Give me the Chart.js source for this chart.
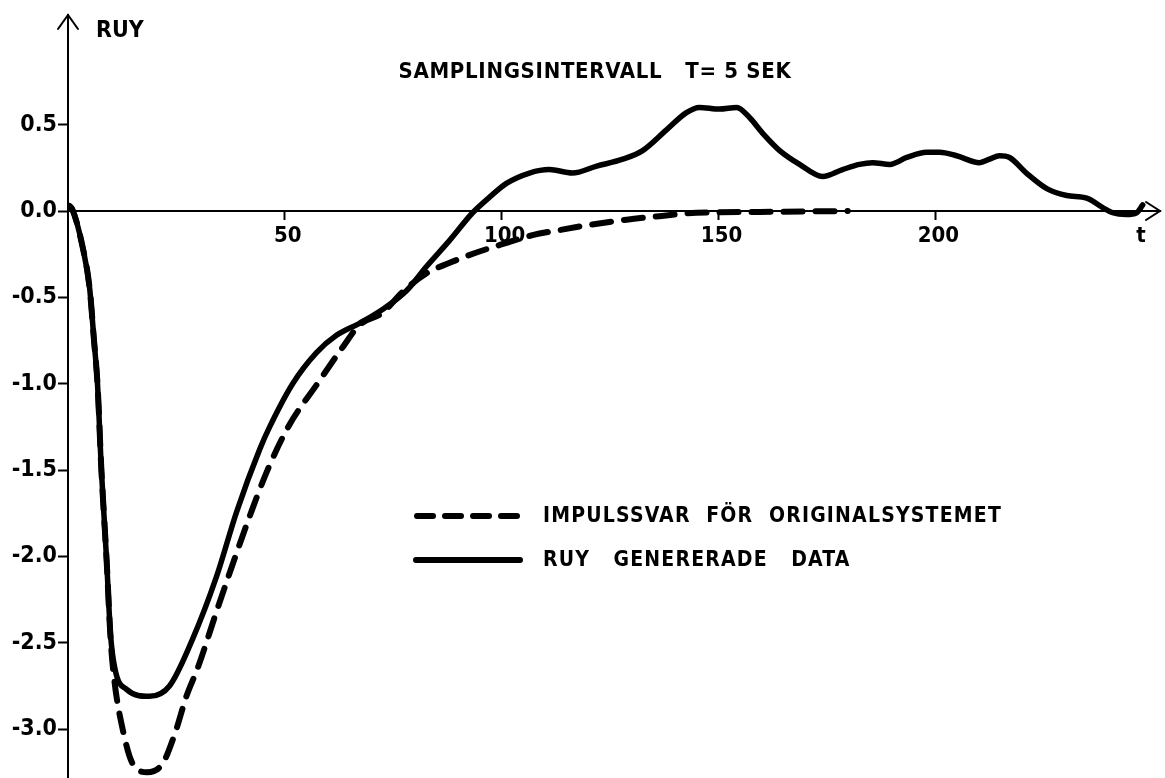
<!DOCTYPE html>
<html>
<head>
<meta charset="utf-8">
<script src="https://cdn.jsdelivr.net/npm/chart.js@4/dist/chart.umd.min.js"></script>
<style>
  html, body { margin: 0; padding: 0; background: #fff; }
  #wrap { width: 1165px; height: 778px; position: relative; }
</style>
</head>
<body>
<div id="wrap"><canvas id="c" width="1165" height="778"></canvas></div>
<script>
// ---- data ----
const solidT = [0.3, 1, 3.3, 5, 6, 6.8, 7.7, 8.9, 9.8, 10.9, 13.5, 18.8, 23.4, 28.7, 34.2, 38.9, 44.2, 46.5, 51.8, 57.3, 61.9, 67.2, 72.5, 78.1, 82.7, 88.0, 93.3, 97.2, 101.1, 106.4, 111.0, 116.3, 121.9, 127.9, 132.5, 138.0, 142.6, 145.6, 150.2, 154.2, 157.2, 160.2, 164.1, 168.7, 174.0, 178.6, 182.5, 185.5, 189.5, 193.4, 198.0, 201.0, 204.9, 210.2, 212.5, 214.8, 217.1, 221.0, 225.7, 230.3, 234.9, 238.6, 240.9, 244.1, 246.4, 247.8];
const solidY = [0.03, 0.01, -0.2, -0.45, -0.75, -1.0, -1.5, -2.02, -2.45, -2.66, -2.77, -2.81, -2.75, -2.48, -2.12, -1.74, -1.38, -1.25, -1.0, -0.82, -0.72, -0.65, -0.57, -0.46, -0.32, -0.17, -0.01, 0.08, 0.16, 0.22, 0.24, 0.22, 0.26, 0.30, 0.35, 0.47, 0.57, 0.60, 0.59, 0.60, 0.54, 0.45, 0.35, 0.27, 0.20, 0.24, 0.27, 0.28, 0.27, 0.31, 0.34, 0.34, 0.32, 0.28, 0.30, 0.32, 0.31, 0.22, 0.13, 0.09, 0.075, 0.02, -0.01, -0.02, -0.01, 0.035];
const dashT = [0.3, 1, 3.3, 5, 6, 6.8, 7.7, 8.9, 9.8, 10.7, 12.6, 14.9, 18.3, 21.8, 24.6, 27.3, 30.0, 34.5, 38.6, 42.0, 46.0, 51.0, 57.5, 63.3, 67.2, 72.5, 77.1, 82.7, 88.0, 94.2, 97.9, 107.1, 113.4, 120.3, 128.8, 136.4, 144.9, 159.5, 179.8];
const dashY = [0.03, 0.01, -0.2, -0.45, -0.75, -1.0, -1.5, -2.02, -2.47, -2.72, -3.0, -3.2, -3.25, -3.2, -3.03, -2.81, -2.64, -2.3, -2.0, -1.76, -1.5, -1.24, -1.0, -0.79, -0.66, -0.59, -0.47, -0.36, -0.30, -0.24, -0.21, -0.14, -0.11, -0.08, -0.05, -0.03, -0.01, -0.005, 0];
const xTicks = [50, 100, 150, 200];
const yTicks = [0.5, 0, -0.5, -1.0, -1.5, -2.0, -2.5, -3.0];
const titleText = 'SAMPLINGSINTERVALL   T= 5 SEK';
const yAxisName = 'RUY';
const xAxisName = 't';
const legendDashed = 'IMPULSSVAR  FÖR  ORIGINALSYSTEMET';
const legendSolid = 'RUY   GENERERADE   DATA';

const FONT = '"DejaVu Sans Condensed", "DejaVu Sans", sans-serif';

const pts = (ts, ys) => ts.map((t, i) => ({ x: t, y: ys[i] }));

const annot = {
  id: 'annot',
  afterDraw(chart) {
    const { ctx, chartArea: a, scales: { x, y } } = chart;
    const y0 = y.getPixelForValue(0);
    ctx.save();
    ctx.strokeStyle = '#000';
    ctx.fillStyle = '#000';
    ctx.lineWidth = 2;
    ctx.lineCap = 'round';
    // y axis arrow
    ctx.beginPath();
    ctx.moveTo(a.left - 10, a.top + 14);
    ctx.lineTo(a.left, a.top);
    ctx.lineTo(a.left + 10, a.top + 14);
    ctx.stroke();
    // x axis arrow
    ctx.beginPath();
    ctx.moveTo(a.right - 14, y0 - 9);
    ctx.lineTo(a.right, y0);
    ctx.lineTo(a.right - 14, y0 + 9);
    ctx.stroke();
    // texts
    ctx.textBaseline = 'middle';
    ctx.font = 'bold 23px ' + FONT;
    ctx.textAlign = 'left';
    ctx.fillText(yAxisName, 96, 31);
    ctx.textAlign = 'center';
    ctx.font = 'bold 22px ' + FONT;
    ctx.fillText(xAxisName, 1141, 236);
    ctx.font = 'bold 22px ' + FONT;
    ctx.letterSpacing = '0.7px';
    ctx.fillText(titleText, 595, 72);
    // legend
    ctx.textAlign = 'left';
    ctx.font = 'bold 21px ' + FONT;
    ctx.letterSpacing = '1.2px';
    ctx.lineWidth = 6;
    ctx.setLineDash([16, 12]);
    ctx.beginPath();
    ctx.moveTo(417, 516);
    ctx.lineTo(521, 516);
    ctx.stroke();
    ctx.setLineDash([]);
    ctx.beginPath();
    ctx.moveTo(416, 560);
    ctx.lineTo(520, 560);
    ctx.stroke();
    ctx.fillText(legendDashed, 543, 517);
    ctx.fillText(legendSolid, 543, 561);
    ctx.restore();
  }
};

new Chart(document.getElementById('c'), {
  type: 'line',
  data: {
    datasets: [
      {
        label: 'RUY GENERERADE DATA',
        data: pts(solidT, solidY),
        borderColor: '#000',
        borderWidth: 5.5,
        pointRadius: 0,
        cubicInterpolationMode: 'monotone',
        borderCapStyle: 'round',
        borderJoinStyle: 'round',
        fill: false
      },
      {
        label: 'IMPULSSVAR FÖR ORIGINALSYSTEMET',
        data: pts(dashT, dashY),
        borderColor: '#000',
        borderWidth: 6,
        borderDash: [19, 13],
        borderCapStyle: 'round',
        pointRadius: 0,
        cubicInterpolationMode: 'monotone',
        fill: false
      }
    ]
  },
  options: {
    responsive: false,
    animation: false,
    events: [],
    layout: { padding: { top: 15, right: 5, bottom: 0, left: 0 } },
    plugins: { legend: { display: false }, tooltip: { enabled: false }, title: { display: false } },
    scales: {
      x: {
        type: 'linear',
        position: { y: 0 },
        min: 0,
        max: 251.8,
        afterBuildTicks: (s) => { s.ticks = xTicks.map(v => ({ value: v })); },
        afterFit: (s) => { s.paddingLeft = 0; s.paddingRight = 0; },
        grid: { display: true, drawOnChartArea: false, drawTicks: true, tickLength: 8, tickWidth: 2, tickColor: '#000' },
        border: { display: true, color: '#000', width: 2 },
        ticks: { color: '#000', font: { family: FONT, size: 22, weight: 'bold' }, padding: 4, maxRotation: 0, labelOffset: 3, callback: (v) => String(v) }
      },
      y: {
        type: 'linear',
        position: 'left',
        min: -3.283,
        max: 1.135,
        afterBuildTicks: (s) => { s.ticks = yTicks.map(v => ({ value: v })); },
        afterFit: (s) => { s.width = 68; s.paddingTop = 0; s.paddingBottom = 0; },
        grid: { display: true, drawOnChartArea: false, drawTicks: true, tickLength: 10, tickWidth: 2, tickColor: '#000' },
        border: { display: true, color: '#000', width: 2 },
        ticks: { color: '#000', font: { family: FONT, size: 23, weight: 'bold' }, padding: 1, callback: (v) => Number(v).toFixed(1) }
      }
    }
  },
  plugins: [annot]
});
</script>
</body>
</html>
